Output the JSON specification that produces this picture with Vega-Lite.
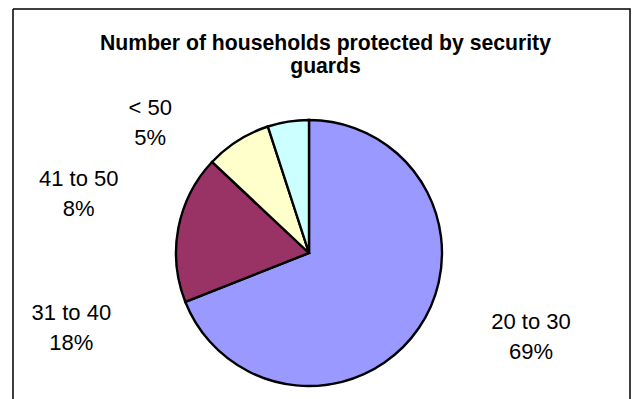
{
  "$schema": "https://vega.github.io/schema/vega-lite/v6.json",
  "autosize": "none",
  "width": 617,
  "height": 390,
  "padding": {"left": 13, "top": 9, "right": 3, "bottom": 0},
  "background": "white",
  "view": {"stroke": "black", "strokeWidth": 1.5, "strokeDash": [1007, 617, 390, 0]},
  "config": {
    "view": {"stroke": "black", "strokeWidth": 1.5, "strokeDash": [1007, 617, 390, 0]},
    "font": "Liberation Sans"
  },
  "title": {
    "text": ["Number of households protected by security", "guards"],
    "font": "Liberation Sans",
    "fontSize": 21.2,
    "fontWeight": "bold",
    "color": "black",
    "lineHeight": 23,
    "anchor": "middle",
    "frame": "group",
    "orient": "top",
    "offset": -68,
    "dx": 4
  },
  "data": {
    "values": [
      {"category": "20 to 30", "share": 69},
      {"category": "31 to 40", "share": 18},
      {"category": "41 to 50", "share": 8},
      {"category": "< 50", "share": 5}
    ]
  },
  "transform": [
    {"calculate": "datum.category + '\\n' + datum.share + '%'", "as": "label"}
  ],
  "encoding": {
    "theta": {"field": "share", "type": "quantitative", "stack": true}
  },
  "layer": [
    {
      "mark": {"type": "arc", "radius": 133, "stroke": "black", "strokeWidth": 2.4, "x": {"expr": "width/2 - 12.5"}, "y": {"expr": "height/2 + 49"}},
      "encoding": {
        "color": {
          "field": "category",
          "type": "nominal",
          "scale": {"domain": ["20 to 30", "31 to 40", "41 to 50", "< 50"], "range": ["#9999FF", "#993366", "#FFFFCC", "#CCFFFF"]},
          "legend": null
        }
      }
    },
    {
      "mark": {"type": "text", "radius": 133, "x": {"expr": "width/2 - 12.5"}, "y": {"expr": "height/2 + 49"}, "dx": 112, "dy": -6, "fontSize": 22, "lineHeight": 30, "lineBreak": "\n", "align": "center", "baseline": "middle", "fill": "black"},
      "encoding": {
        "detail": {"field": "category"},
        "text": {"condition": {"test": "datum.category === '20 to 30'", "field": "label"}, "value": ""}
      }
    },
    {
      "mark": {"type": "text", "radius": 133, "x": {"expr": "width/2 - 12.5"}, "y": {"expr": "height/2 + 49"}, "dx": -107, "dy": 85, "fontSize": 22, "lineHeight": 30, "lineBreak": "\n", "align": "center", "baseline": "middle", "fill": "black"},
      "encoding": {
        "detail": {"field": "category"},
        "text": {"condition": {"test": "datum.category === '31 to 40'", "field": "label"}, "value": ""}
      }
    },
    {
      "mark": {"type": "text", "radius": 133, "x": {"expr": "width/2 - 12.5"}, "y": {"expr": "height/2 + 49"}, "dx": -159, "dy": 38, "fontSize": 22, "lineHeight": 30, "lineBreak": "\n", "align": "center", "baseline": "middle", "fill": "black"},
      "encoding": {
        "detail": {"field": "category"},
        "text": {"condition": {"test": "datum.category === '41 to 50'", "field": "label"}, "value": ""}
      }
    },
    {
      "mark": {"type": "text", "radius": 133, "x": {"expr": "width/2 - 12.5"}, "y": {"expr": "height/2 + 49"}, "dx": -138, "dy": -14, "fontSize": 22, "lineHeight": 30, "lineBreak": "\n", "align": "center", "baseline": "middle", "fill": "black"},
      "encoding": {
        "detail": {"field": "category"},
        "text": {"condition": {"test": "datum.category === '< 50'", "field": "label"}, "value": ""}
      }
    }
  ]
}
